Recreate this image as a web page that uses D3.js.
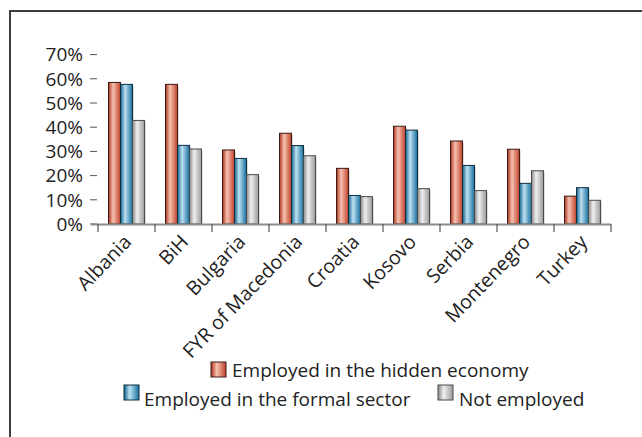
<!DOCTYPE html>
<html>
<head>
<meta charset="utf-8">
<script src="https://cdn.jsdelivr.net/npm/d3@7/dist/d3.min.js"></script>
<style>
html,body{margin:0;padding:0;background:#fff;}
svg{display:block;}
text{font-family:"Open Sans",sans-serif;fill:#222;}
</style>
</head>
<body>
<svg id="chart" width="642" height="437"></svg>
<script>
const categories = ["Albania","BiH","Bulgaria","FYR of Macedonia","Croatia","Kosovo","Serbia","Montenegro","Turkey"];
const seriesNames = ["Employed in the hidden economy","Employed in the formal sector","Not employed"];
const hidden = [58.5, 57.7, 30.6, 37.5, 23.0, 40.4, 34.3, 30.9, 11.5];
const formal = [57.7, 32.5, 27.1, 32.4, 11.8, 38.8, 24.2, 16.8, 15.0];
const notEmployed = [42.8, 31.0, 20.4, 28.2, 11.3, 14.6, 13.8, 22.0, 9.8];
const yTicks = [0,10,20,30,40,50,60,70];

const svg = d3.select("#chart");
const defs = svg.append("defs");
const grads = [
  {id:"gRed", stops:[["0%","#b0321f"],["38%","#f6c2b0"],["100%","#c0402a"]]},
  {id:"gBlue", stops:[["0%","#10628c"],["38%","#bde1f2"],["100%","#16709f"]]},
  {id:"gGrey", stops:[["0%","#878787"],["38%","#f0f0f0"],["100%","#9a9a9a"]]}
];
grads.forEach(g=>{
  const lg = defs.append("linearGradient").attr("id",g.id).attr("x1","0").attr("x2","1").attr("y1","0").attr("y2","0");
  g.stops.forEach(s=>lg.append("stop").attr("offset",s[0]).attr("stop-color",s[1]));
});
const fills = ["url(#gRed)","url(#gBlue)","url(#gGrey)"];
const strokes = ["#3a1a14","#0e2e40","#4a4a4a"];

// frame
svg.append("rect").attr("x",10).attr("y",11).attr("width",700).attr("height",500)
  .attr("fill","none").attr("stroke","#3c3c3c").attr("stroke-width",2);

const x = d3.scaleBand().domain(categories).range([98, 611]).paddingInner(0).paddingOuter(0);
const y = d3.scaleLinear().domain([0,70]).range([224, 54.6]);
const xs = d3.scaleBand().domain(seriesNames).range([0,36]);

// y axis ticks and labels
const yAxis = svg.append("g");
yTicks.forEach(t=>{
  yAxis.append("line").attr("x1",90).attr("x2",97).attr("y1",y(t)).attr("y2",y(t))
    .attr("stroke","#555").attr("stroke-width",1);
  yAxis.append("text").attr("x",83).attr("y",y(t)).attr("dy","0.36em")
    .attr("text-anchor","end").attr("font-size","19px").text(t+"%");
});

// bars
const data = [hidden, formal, notEmployed];
categories.forEach((c,i)=>{
  const gx = x(c) + (x.bandwidth()-36)/2;
  data.forEach((arr,s)=>{
    svg.append("rect").attr("x",gx+xs(seriesNames[s])+1.5).attr("y",y(arr[i])+1.5)
      .attr("width",xs.bandwidth()).attr("height",y(0)-y(arr[i])-1.5)
      .attr("fill","#bdbdbd").attr("opacity",0.5);
    svg.append("rect").attr("x",gx+xs(seriesNames[s])).attr("y",y(arr[i]))
      .attr("width",xs.bandwidth()).attr("height",y(0)-y(arr[i]))
      .attr("fill",fills[s]).attr("stroke",strokes[s]).attr("stroke-width",1);
  });
});

// x axis
const xAxis = svg.append("g");
xAxis.append("line").attr("x1",91).attr("x2",611).attr("y1",224.5).attr("y2",224.5)
  .attr("stroke","#8c8c8c").attr("stroke-width",2);
categories.concat(["__end"]).forEach((c,i)=>{
  const tx = i<categories.length ? x(c) : x.range()[1];
  xAxis.append("line").attr("x1",tx).attr("x2",tx).attr("y1",224).attr("y2",232)
    .attr("stroke","#555").attr("stroke-width",1.2);
});
categories.forEach(c=>{
  const cx = x(c) + x.bandwidth()/2 + 6;
  xAxis.append("text").attr("transform",`translate(${cx},243) rotate(-46)`)
    .attr("text-anchor","end").attr("font-size","19.5px").text(c);
});

// legend
const leg = svg.append("g");
const legendItems = [
  {name:seriesNames[0], sx:211, sy:362, tx:232, ty:377},
  {name:seriesNames[1], sx:124, sy:385, tx:144, ty:406},
  {name:seriesNames[2], sx:438, sy:385, tx:459, ty:406}
];
legendItems.forEach((d,i)=>{
  leg.append("rect").attr("x",d.sx).attr("y",d.sy).attr("width",15).attr("height",15)
    .attr("fill",fills[i]).attr("stroke",strokes[i]).attr("stroke-width",1);
  leg.append("text").attr("x",d.tx).attr("y",d.ty).attr("font-size","19px").text(d.name);
});
</script>
</body>
</html>
